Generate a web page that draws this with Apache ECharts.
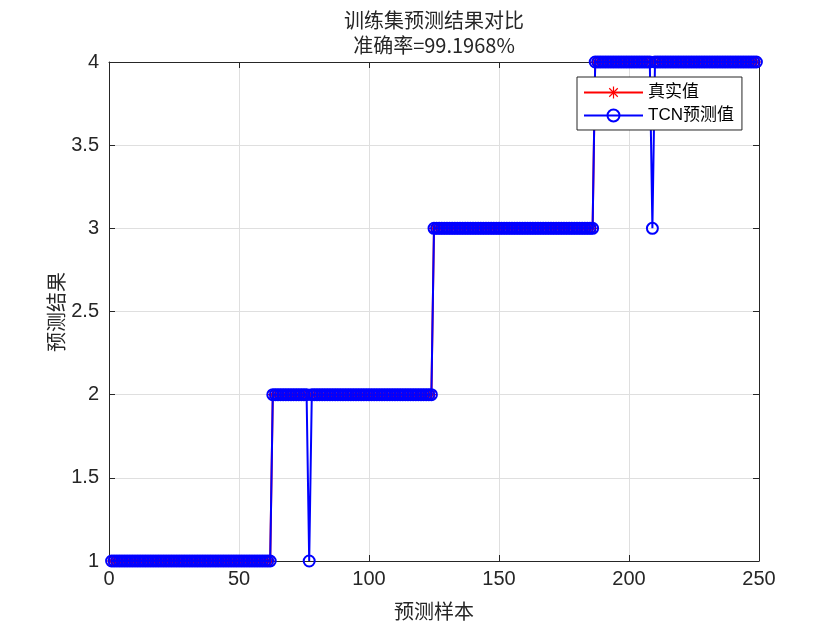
<!DOCTYPE html>
<html>
<head>
<meta charset="utf-8">
<script src="https://cdn.jsdelivr.net/npm/echarts@6/dist/echarts.min.js"></script>
<style>html,body{margin:0;padding:0;background:#fff}#c{width:840px;height:630px}</style>
</head>
<body>
<div id="c"></div>
<script>
// ---- data ----
var titleLines = ['训练集预测结果对比', '准确率=99.1968%'];
var xName = '预测样本';
var yName = '预测结果';
var seriesNames = ['真实值', 'TCN预测值'];
var xTicks = [0, 50, 100, 150, 200, 250];
var yTicks = [1, 1.5, 2, 2.5, 3, 3.5, 4];

// true class per sample (samples 1..249), 10 per row
var trueVals = [
  1,1,1,1,1,1,1,1,1,1,
  1,1,1,1,1,1,1,1,1,1,
  1,1,1,1,1,1,1,1,1,1,
  1,1,1,1,1,1,1,1,1,1,
  1,1,1,1,1,1,1,1,1,1,
  1,1,1,1,1,1,1,1,1,1,
  1,1,2,2,2,2,2,2,2,2,
  2,2,2,2,2,2,2,2,2,2,
  2,2,2,2,2,2,2,2,2,2,
  2,2,2,2,2,2,2,2,2,2,
  2,2,2,2,2,2,2,2,2,2,
  2,2,2,2,2,2,2,2,2,2,
  2,2,2,2,3,3,3,3,3,3,
  3,3,3,3,3,3,3,3,3,3,
  3,3,3,3,3,3,3,3,3,3,
  3,3,3,3,3,3,3,3,3,3,
  3,3,3,3,3,3,3,3,3,3,
  3,3,3,3,3,3,3,3,3,3,
  3,3,3,3,3,3,4,4,4,4,
  4,4,4,4,4,4,4,4,4,4,
  4,4,4,4,4,4,4,4,4,4,
  4,4,4,4,4,4,4,4,4,4,
  4,4,4,4,4,4,4,4,4,4,
  4,4,4,4,4,4,4,4,4,4,
  4,4,4,4,4,4,4,4,4
];
// predicted class per sample
var predVals = [
  1,1,1,1,1,1,1,1,1,1,
  1,1,1,1,1,1,1,1,1,1,
  1,1,1,1,1,1,1,1,1,1,
  1,1,1,1,1,1,1,1,1,1,
  1,1,1,1,1,1,1,1,1,1,
  1,1,1,1,1,1,1,1,1,1,
  1,1,2,2,2,2,2,2,2,2,
  2,2,2,2,2,2,1,2,2,2,
  2,2,2,2,2,2,2,2,2,2,
  2,2,2,2,2,2,2,2,2,2,
  2,2,2,2,2,2,2,2,2,2,
  2,2,2,2,2,2,2,2,2,2,
  2,2,2,2,3,3,3,3,3,3,
  3,3,3,3,3,3,3,3,3,3,
  3,3,3,3,3,3,3,3,3,3,
  3,3,3,3,3,3,3,3,3,3,
  3,3,3,3,3,3,3,3,3,3,
  3,3,3,3,3,3,3,3,3,3,
  3,3,3,3,3,3,4,4,4,4,
  4,4,4,4,4,4,4,4,4,4,
  4,4,4,4,4,4,4,4,3,4,
  4,4,4,4,4,4,4,4,4,4,
  4,4,4,4,4,4,4,4,4,4,
  4,4,4,4,4,4,4,4,4,4,
  4,4,4,4,4,4,4,4,4
];

// ---- build ----
function pairs(arr){ return arr.map(function(v,i){ return [i+1, v]; }); }
var FONT = '"Liberation Sans", Arial, "Noto Sans CJK SC", sans-serif';
var CJK = '"Noto Sans CJK SC", "Liberation Sans", sans-serif';
var LEG = '"Liberation Sans", "Noto Sans CJK SC", sans-serif';
var TXT = '#262626';
var star = 'path://M-1,-0.1L1,-0.1L1,0.1L-1,0.1Z M-0.1,-1L0.1,-1L0.1,1L-0.1,1Z M-0.78,-0.64L-0.64,-0.78L0.78,0.64L0.64,0.78Z M0.64,-0.78L0.78,-0.64L-0.64,0.78L-0.78,0.64Z';

var chart = echarts.init(document.getElementById('c'), null, {renderer:'canvas'});
var axCommon = {
  axisLine:{show:true, onZero:false, lineStyle:{color:TXT, width:1}},
  axisTick:{show:true, inside:true, length:6, lineStyle:{color:TXT}}
};
chart.setOption({
  animation:false,
  backgroundColor:'#fff',
  graphic:[
    {type:'text', x:434, y:20, style:{text:titleLines[0], font:'20px '+CJK, fill:TXT, textAlign:'center', textVerticalAlign:'middle'}},
    {type:'text', x:434, y:45, style:{text:titleLines[1], font:'20px '+CJK, fill:TXT, textAlign:'center', textVerticalAlign:'middle'}},
    {type:'text', x:56, y:312, rotation:Math.PI/2, style:{text:yName, font:'20px '+CJK, fill:TXT, textAlign:'center', textVerticalAlign:'middle'}}
  ],
  grid:{left:109, right:81, top:62, bottom:69, containLabel:false},
  legend:{
    data:seriesNames, orient:'vertical', left:577, top:77,
    backgroundColor:'#fff', borderColor:TXT, borderWidth:1, borderRadius:0,
    padding:[7,8,6,6], itemGap:6, itemWidth:59, itemHeight:15,
    textStyle:{fontSize:17, color:'#000', fontFamily:LEG}
  },
  xAxis:[
    Object.assign({type:'value', min:xTicks[0], max:xTicks[xTicks.length-1], interval:50, position:'bottom',
      name:xName, nameLocation:'middle', nameGap:40, nameTextStyle:{fontSize:20, color:TXT, fontFamily:CJK},
      axisLabel:{fontSize:20, color:TXT, fontFamily:FONT, margin:8},
      splitLine:{show:true, lineStyle:{color:'#dfdfdf', width:1}}}, axCommon),
    Object.assign({type:'value', min:xTicks[0], max:xTicks[xTicks.length-1], interval:50, position:'top',
      axisLabel:{show:false}, splitLine:{show:false}}, axCommon)
  ],
  yAxis:[
    Object.assign({type:'value', min:yTicks[0], max:yTicks[yTicks.length-1], interval:0.5, position:'left',
      axisLabel:{fontSize:20, color:TXT, fontFamily:FONT, margin:10},
      splitLine:{show:true, lineStyle:{color:'#dfdfdf', width:1}}}, axCommon),
    Object.assign({type:'value', min:yTicks[0], max:yTicks[yTicks.length-1], interval:0.5, position:'right',
      axisLabel:{show:false}, splitLine:{show:false}}, axCommon)
  ],
  series:[
    {name:seriesNames[0], type:'line', data:pairs(trueVals), xAxisIndex:0, yAxisIndex:0,
      symbol:star, symbolSize:11, showAllSymbol:true,
      lineStyle:{color:'#ff0000', width:2}, itemStyle:{color:'#ff0000'}, z:2},
    {name:seriesNames[1], type:'line', data:pairs(predVals), xAxisIndex:0, yAxisIndex:0,
      symbol:'circle', symbolSize:11, showAllSymbol:true,
      lineStyle:{color:'#0000ff', width:2},
      itemStyle:{color:'rgba(0,0,0,0)', borderColor:'#0000ff', borderWidth:2}, z:3}
  ]
});
</script>
</body>
</html>
